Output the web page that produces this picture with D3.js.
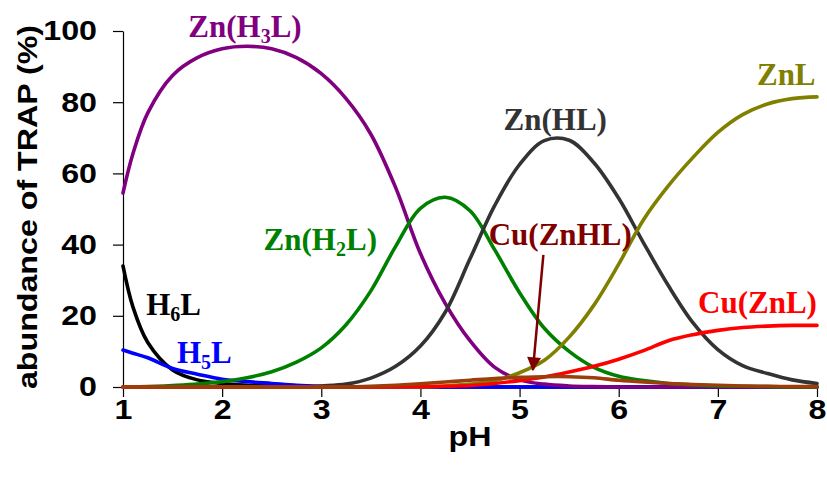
<!DOCTYPE html>
<html>
<head>
<meta charset="utf-8">
<script src="https://cdn.jsdelivr.net/npm/d3@7"></script>
<style>
  html, body { margin: 0; padding: 0; background: #fff; }
  svg { display: block; }
  .axis path, .axis line { stroke: #000; stroke-width: 1.2; }
  .axis text { font-family: "Liberation Sans", Arial, sans-serif; font-weight: bold; font-size: 28px; fill: #000; }
  .series { fill: none; stroke-width: 3.6; stroke-linejoin: round; stroke-linecap: round; }
</style>
</head>
<body>
<svg id="chart" width="827" height="479"></svg>
<script>
// pH grid shared by all species
const pH = [1, 1.1, 1.25, 1.5, 1.75, 2, 2.25, 2.5, 2.75, 3, 3.25, 3.5, 3.75, 4, 4.25, 4.5,
            4.75, 5, 5.25, 5.5, 5.75, 6, 6.25, 6.5, 6.75, 7, 7.25, 7.5, 7.75, 8];

// abundance (%)
const H6L     = [34, 22.5, 12.5, 4.8, 2.0, 1.0, 0.5, 0.2, 0, 0, 0, 0, 0, 0, 0, 0, 0, 0, 0, 0, 0, 0, 0, 0, 0, 0, 0, 0, 0, 0];
const H5L     = [10.4, 9.5, 8.2, 5.2, 3.6, 2.2, 1.5, 1.0, 0.5, 0.2, 0, 0, 0, 0, 0, 0, 0, 0, 0, 0, 0, 0, 0, 0, 0, 0, 0, 0, 0, 0];
const ZnH3L   = [54.5, 65.5, 77, 87.5, 92.5, 95, 95.7, 95, 92.5, 88, 81, 71, 56, 37.5, 23.5, 13, 5.5, 2, 0.8, 0.3, 0.1, 0, 0, 0, 0, 0, 0, 0, 0, 0];
const ZnH2L   = [0, 0, 0.1, 0.4, 0.8, 1.5, 2.6, 4.3, 7, 11, 17.5, 27, 39.5, 50.2, 53.3, 49.5, 38.5, 26.5, 16.5, 10, 5.5, 3, 1.8, 1, 0.6, 0.3, 0.2, 0.1, 0, 0];
const ZnHL    = [0, 0, 0, 0, 0, 0, 0, 0, 0, 0.3, 0.8, 2.5, 5.8, 11.5, 21, 36, 51, 62.5, 69.2, 69.3, 63, 53, 40.5, 28.5, 18, 10.5, 6, 3.8, 2, 1];
const ZnL     = [0, 0, 0, 0, 0, 0, 0, 0, 0, 0, 0, 0, 0, 0, 0.3, 0.8, 1.8, 4, 7.5, 14, 23, 34.5, 47, 56.5, 64.5, 71.5, 76.5, 79.5, 81, 81.5];
const CuZnL   = [0, 0, 0, 0, 0, 0, 0, 0, 0, 0, 0, 0, 0, 0.1, 0.2, 0.4, 1, 1.8, 2.8, 4.2, 5.8, 7.8, 10.2, 13, 14.7, 15.9, 16.7, 17.1, 17.3, 17.3];
const CuZnHL  = [0, 0, 0, 0, 0, 0, 0, 0, 0, 0, 0, 0.2, 0.5, 0.9, 1.4, 1.9, 2.4, 2.7, 2.9, 2.9, 2.6, 1.9, 1.4, 1.0, 0.7, 0.5, 0.3, 0.2, 0.1, 0.1];

const xTicks = [1, 2, 3, 4, 5, 6, 7, 8];
const yTicks = [0, 20, 40, 60, 80, 100];

const series = [
  { name: "H6L",      values: H6L,    color: "#000000" },
  { name: "H5L",      values: H5L,    color: "#0000ff" },
  { name: "Zn(H3L)",  values: ZnH3L,  color: "#800080" },
  { name: "Zn(H2L)",  values: ZnH2L,  color: "#008000" },
  { name: "Zn(HL)",   values: ZnHL,   color: "#333333" },
  { name: "ZnL",      values: ZnL,    color: "#808000" },
  { name: "Cu(ZnL)",  values: CuZnL,  color: "#ff0000" },
  { name: "Cu(ZnHL)", values: CuZnHL, color: "#9c3d0b" }
];

// labels: [text before subscript, subscript, text after], anchored at (pH, %)
const labels = [
  { parts: ["Zn(H", "3", "L)"], at: [2.23, 98.3], color: "#800080" },
  { parts: ["Zn(H", "2", "L)"], at: [2.99, 38.5], color: "#008000" },
  { parts: ["H", "6", "L"],     at: [1.51, 20.2], color: "#000000" },
  { parts: ["H", "5", "L"],     at: [1.82, 6.7],  color: "#0000ff" },
  { parts: ["Zn(HL)"],          at: [5.36, 72.2], color: "#333333" },
  { parts: ["Cu(ZnHL)"],        at: [5.41, 39.9], color: "#800000" },
  { parts: ["ZnL"],             at: [7.69, 84.8], color: "#808000" },
  { parts: ["Cu(ZnL)"],         at: [7.40, 20.8], color: "#ff0000" }
];
const arrowFrom = [5.24, 37.1];
const arrowTo = [5.135, 4.8];

const svg = d3.select("#chart");
const x = d3.scaleLinear().domain([1, 8]).range([123, 817]);
const y = d3.scaleLinear().domain([0, 100]).range([387, 31]);

// axes
const xAxis = svg.append("g")
  .attr("class", "axis")
  .attr("transform", `translate(0,${y(0)})`)
  .call(d3.axisBottom(x).tickValues(xTicks).tickSize(10).tickSizeOuter(0).tickPadding(2).tickFormat(d3.format("d")));
xAxis.selectAll("text").attr("transform", "scale(1.15,1)");

const yAxis = svg.append("g")
  .attr("class", "axis")
  .attr("transform", `translate(${x(1)},0)`)
  .call(d3.axisLeft(y).tickValues(yTicks).tickSize(10).tickSizeOuter(0).tickPadding(12.6));
yAxis.selectAll("text").attr("transform", "scale(1.15,1)");

svg.append("text")
  .attr("transform", "translate(470,446) scale(1.15,1)")
  .attr("text-anchor", "middle")
  .style("font-family", "'Liberation Sans', Arial, sans-serif")
  .style("font-weight", "bold")
  .style("font-size", "28px")
  .text("pH");

svg.append("text")
  .attr("transform", "translate(37,207) rotate(-90) scale(1.15,1)")
  .attr("text-anchor", "middle")
  .style("font-family", "'Liberation Sans', Arial, sans-serif")
  .style("font-weight", "bold")
  .style("font-size", "28px")
  .text("abundance of TRAP (%)");

// curves
const line = d3.line()
  .x((d, i) => x(pH[i]))
  .y(d => y(Math.max(0, d)))
  .curve(d3.curveCatmullRom.alpha(0.5));

svg.append("g")
  .selectAll("path")
  .data(series)
  .join("path")
  .attr("class", "series")
  .attr("stroke", d => d.color)
  .attr("d", d => line(d.values));

// labels
labels.forEach(l => {
  const t = svg.append("text")
    .attr("x", x(l.at[0]))
    .attr("y", y(l.at[1]))
    .attr("text-anchor", "middle")
    .attr("fill", l.color)
    .style("font-family", "'Liberation Serif', 'Times New Roman', Times, serif")
    .style("font-weight", "bold")
    .style("font-size", "31px");
  t.append("tspan").text(l.parts[0]);
  if (l.parts.length > 1) {
    t.append("tspan").attr("dy", 6).style("font-size", "20px").text(l.parts[1]);
    t.append("tspan").attr("dy", -6).text(l.parts[2]);
  }
});

// arrow to Cu(ZnHL)
svg.append("defs").append("marker")
  .attr("id", "head")
  .attr("viewBox", "0 0 10 10")
  .attr("refX", 9).attr("refY", 5)
  .attr("markerWidth", 18).attr("markerHeight", 14)
  .attr("markerUnits", "userSpaceOnUse")
  .attr("orient", "auto")
  .append("path")
  .attr("d", "M0,0 L10,5 L0,10 z")
  .attr("fill", "#800000");

svg.append("line")
  .attr("x1", x(arrowFrom[0])).attr("y1", y(arrowFrom[1]))
  .attr("x2", x(arrowTo[0])).attr("y2", y(arrowTo[1]))
  .attr("stroke", "#800000")
  .attr("stroke-width", 2.5)
  .attr("marker-end", "url(#head)");
</script>
</body>
</html>
